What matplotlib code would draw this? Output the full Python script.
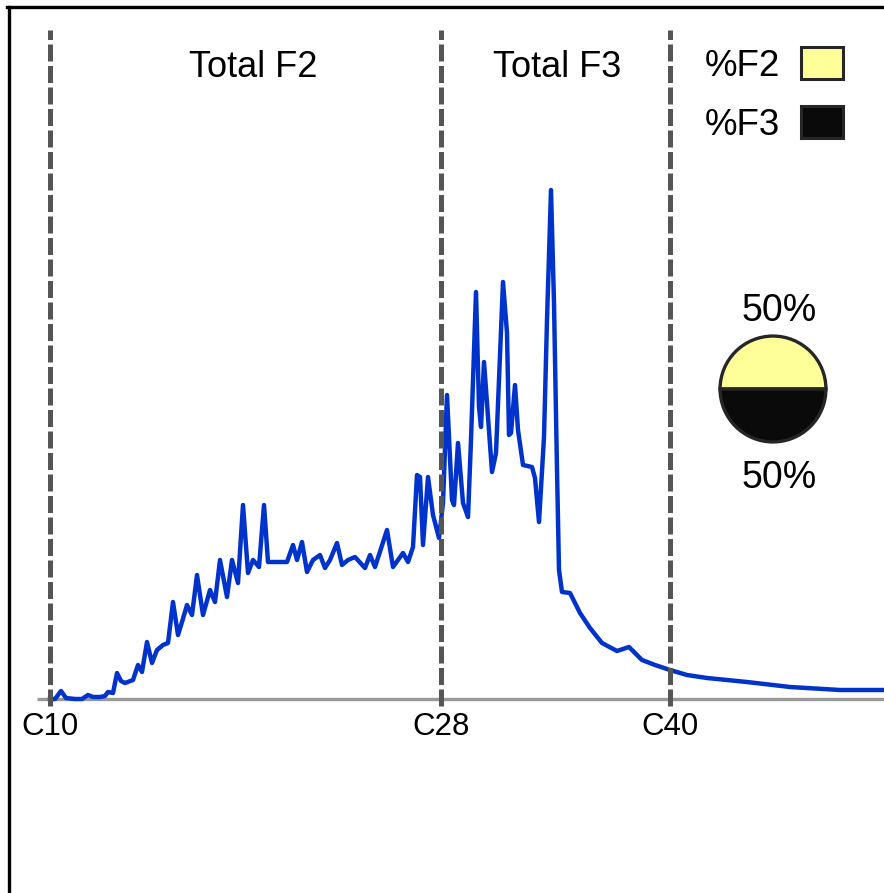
import numpy as np
import matplotlib
matplotlib.use("Agg")
import matplotlib.pyplot as plt
from matplotlib.lines import Line2D
from matplotlib.patches import Patch

plt.rcParams["font.family"] = ["Liberation Sans", "DejaVu Sans"]

# retention time (min) and detector signal
time = [2.50, 2.75, 3.05, 3.30, 3.75, 4.10, 4.40, 4.65, 5.00, 5.25,
        5.40, 5.65, 5.85, 6.05, 6.25, 6.65, 6.90, 7.10, 7.35, 7.60,
        7.85, 8.15, 8.40, 8.65, 8.90, 9.10, 9.35, 9.60, 9.85, 10.15,
        10.50, 10.75, 11.00, 11.35, 11.60, 11.90, 12.15, 12.40, 12.65, 12.95,
        13.20, 13.40, 13.65, 14.35, 14.65, 14.85, 15.10, 15.35, 15.65, 16.00,
        16.25, 16.50, 16.85, 17.10, 17.40, 17.75, 18.25, 18.50, 18.75, 19.35,
        19.65, 20.15, 20.40, 20.65, 20.85, 21.00, 21.15, 21.40, 21.65, 21.95,
        22.15, 22.35, 22.60, 22.70, 22.90, 23.15, 23.40, 23.55, 23.80, 23.95,
        24.05, 24.20, 24.35, 24.60, 24.80, 25.15, 25.35, 25.45, 25.55, 25.75,
        25.90, 26.15, 26.60, 26.75, 26.95, 27.20, 27.35, 27.55, 27.70, 27.85,
        27.95, 28.10, 28.50, 29.00, 29.50, 30.10, 30.85, 31.45, 32.10, 32.75,
        33.50, 34.35, 35.35, 37.35, 39.50, 42.00, 44.20]
signal = [0.0, 0.0, 1.6, 0.2, 0.0, 0.0, 0.8, 0.4, 0.4, 0.6,
          1.4, 1.2, 5.2, 3.6, 3.2, 3.8, 6.8, 5.4, 11.4, 7.2,
          9.8, 10.8, 11.2, 19.4, 12.8, 15.4, 18.8, 16.8, 24.8, 16.8,
          21.8, 19.4, 27.8, 20.4, 27.8, 23.2, 38.8, 25.2, 27.8, 26.4,
          38.8, 27.4, 27.4, 27.4, 30.8, 27.8, 31.4, 25.4, 27.8, 28.8,
          26.2, 27.8, 31.2, 26.8, 27.8, 28.4, 26.2, 28.8, 26.4, 33.8,
          26.4, 29.2, 27.4, 30.4, 44.8, 44.4, 30.8, 44.4, 36.8, 32.2,
          39.2, 60.8, 39.8, 38.8, 51.2, 39.2, 36.4, 51.8, 81.4, 58.4,
          54.4, 67.4, 59.2, 45.4, 49.2, 83.4, 73.2, 52.8, 53.2, 62.8,
          53.8, 46.8, 46.4, 44.2, 35.4, 52.4, 75.8, 101.8, 79.2, 45.8,
          25.8, 21.4, 21.2, 17.2, 14.2, 11.2, 9.6, 10.4, 7.8, 6.8,
          5.8, 4.8, 4.2, 3.4, 2.4, 1.8, 1.8]

markers = ["C10", "C28", "C40"]
marker_time = [2.50, 22.05, 33.50]
regions = ["Total F2", "Total F3"]
region_time = [12.65, 27.85]
fractions = ["%F2", "%F3"]
shares = [50, 50]
colors = ["#ffff99", "#0a0a0a"]

fig = plt.figure(figsize=(8.84, 8.93), dpi=100)
ax = fig.add_axes([0, 0, 1, 1])
ax.set_xlim(0, 44.2)
ax.set_ylim(-38.8, 139.8)
ax.axis("off")

ax.hlines(0, 1.85, 44.2, color="#999999", lw=2.4, zorder=1)
ax.plot(time, signal, color="#0033cc", lw=3.2, solid_joinstyle="round", zorder=2)
ax.vlines(marker_time, -1.4, 133.8, color="#555555", lw=3.6,
          linestyles=(0, (3.4, 0.9)), zorder=3)

for lab, t in zip(markers, marker_time):
    ax.text(t, -5.6, lab, ha="center", va="center", fontsize=22.5)
for lab, t in zip(regions, region_time):
    ax.text(t, 126.4, lab, ha="center", va="center", fontsize=26)

# frame
fig.add_artist(Line2D([8.5 / 884, 8.5 / 884], [0, 1 - 6.5 / 893],
                      transform=fig.transFigure, color="black", lw=2.4))
fig.add_artist(Line2D([7.5 / 884, 1], [1 - 6.5 / 893, 1 - 6.5 / 893],
                      transform=fig.transFigure, color="black", lw=2.4))

handles = [Patch(facecolor=c, edgecolor="#262626", lw=2.2) for c in colors]
ax.legend(handles, fractions, loc="upper right", markerfirst=False,
          frameon=False, fontsize=26.5, handlelength=1.15, handleheight=0.95,
          handletextpad=0.55, labelspacing=0.62, borderpad=0,
          borderaxespad=0, bbox_to_anchor=(843 / 884, 1 - 47 / 893),
          bbox_transform=fig.transFigure)

# share pie
pax = fig.add_axes([(773 - 54) / 884, 1 - (389 + 54) / 893, 108 / 884, 108 / 893])
pax.pie(shares, colors=colors, startangle=0, counterclock=True,
        wedgeprops=dict(edgecolor="#262626", lw=2.4))
pax.set_xlim(-1.02, 1.02)
pax.set_ylim(-1.02, 1.02)
pax.set_aspect("equal")
fig.text(779 / 884, 1 - 311 / 893, f"{shares[0]}%", ha="center", va="center", fontsize=27)
fig.text(779 / 884, 1 - 478 / 893, f"{shares[1]}%", ha="center", va="center", fontsize=27)

fig.savefig("out.png", dpi=100)
